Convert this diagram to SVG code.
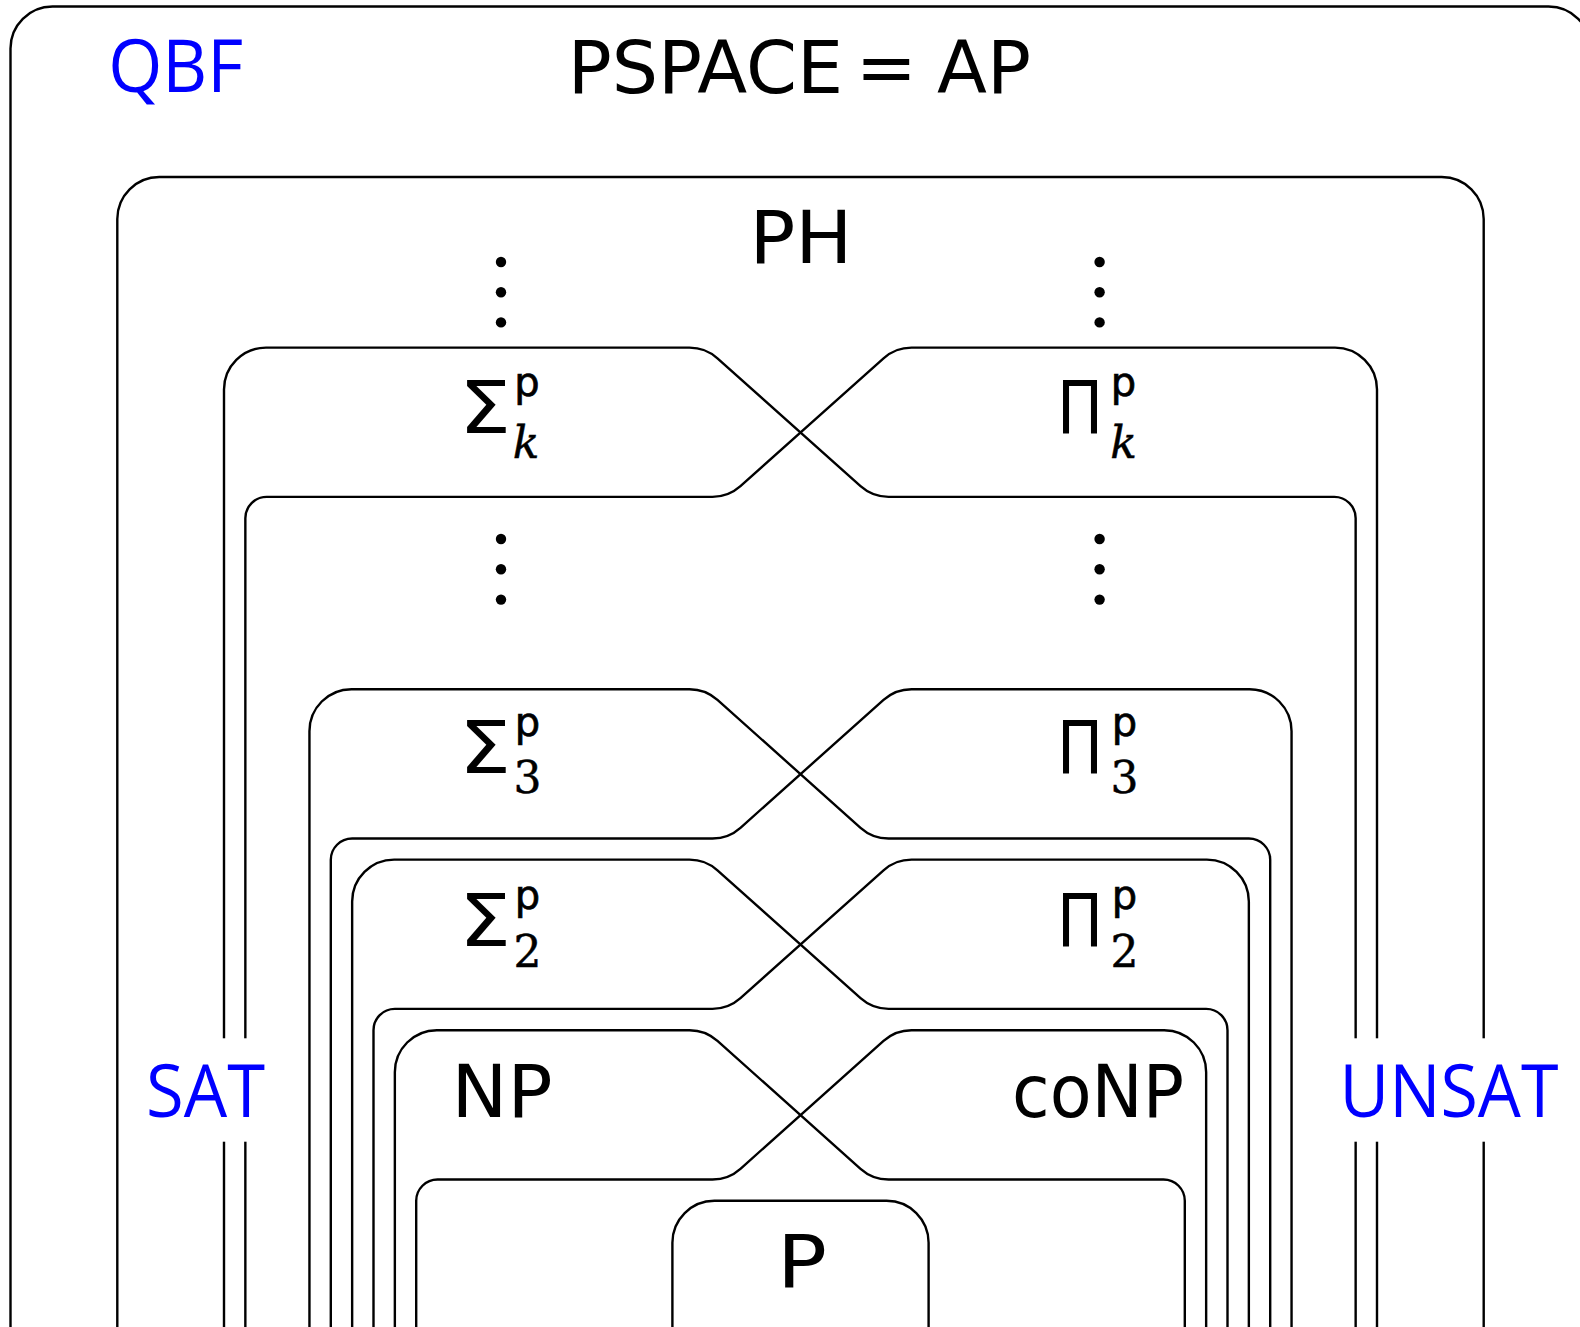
<svg xmlns="http://www.w3.org/2000/svg" width="1580" height="1327" viewBox="0 0 1580 1327">
<style>
.box{fill:none;stroke:#000;stroke-width:2.4}
.lbl{font-family:"DejaVu Sans","Liberation Sans",sans-serif;font-size:73px;fill:#000;text-anchor:middle}
.blue{font-family:"Open Sans","Noto Sans",sans-serif;font-size:73px;fill:#0000ff;text-anchor:middle}
.sup{font-family:"DejaVu Sans","Liberation Sans",sans-serif;font-size:40px;stroke:#000;stroke-width:0.7}
.sub{font-family:"DejaVu Serif","Liberation Serif",serif;font-size:44px;stroke:#000;stroke-width:0.5}
.subi{font-family:"DejaVu Serif","Liberation Serif",serif;font-size:44px;font-style:italic;stroke:#000;stroke-width:0.5}
.dot{fill:#000}
.bg{fill:#fff}
</style>
<rect width="1580" height="1327" fill="#fff"/>
<g id="pspace">
<path class="box" d="M10.5,1340 V48.5 A42,42 0 0 1 52.5,6.5 H1548.5 A42,42 0 0 1 1590.5,48.5 V1340"/>
<text class="lbl" y="92.7"><tspan x="717">PSPACE</tspan> <tspan x="898">=</tspan> <tspan x="984">AP</tspan></text>
</g>
<g id="ph">
<path class="box" d="M117.3,1340 V219 A42,42 0 0 1 159.3,177 H1441.7 A42,42 0 0 1 1483.7,219 V1340"/>
<text class="lbl" x="800.9" y="263.3" textLength="103" lengthAdjust="spacingAndGlyphs">PH</text>
</g>
<g id="dots">
<circle class="dot" cx="501" cy="262" r="5.2"/><circle class="dot" cx="501" cy="292.2" r="5.2"/><circle class="dot" cx="501" cy="322.4" r="5.2"/>
<circle class="dot" cx="1099.6" cy="262" r="5.2"/><circle class="dot" cx="1099.6" cy="292.2" r="5.2"/><circle class="dot" cx="1099.6" cy="322.4" r="5.2"/>
<circle class="dot" cx="501" cy="539" r="5.2"/><circle class="dot" cx="501" cy="569.3" r="5.2"/><circle class="dot" cx="501" cy="599.6" r="5.2"/>
<circle class="dot" cx="1099.6" cy="539" r="5.2"/><circle class="dot" cx="1099.6" cy="569.3" r="5.2"/><circle class="dot" cx="1099.6" cy="599.6" r="5.2"/>
</g>
<g id="sigma-k">
<path class="box" d="M224,1340 V389.6 A42,42 0 0 1 266,347.6 H689.46 A42,42 0 0 1 717.46,358.29 L860.54,486.21 A42,42 0 0 0 888.54,496.9 H1334.3 A21.35,21.35 0 0 1 1355.65,518.25 V1340"/>
<text class="lbl" y="433.3"><tspan x="485" textLength="52" lengthAdjust="spacingAndGlyphs">Σ</tspan><tspan class="sup" x="527" y="396.3">p</tspan><tspan class="subi" x="526" y="458.3">k</tspan></text>
</g>
<g id="pi-k">
<path class="box" d="M1377,1340 V389.6 A42,42 0 0 0 1335,347.6 H911.54 A42,42 0 0 0 883.54,358.29 L740.46,486.21 A42,42 0 0 1 712.46,496.9 H266.7 A21.35,21.35 0 0 0 245.35,518.25 V1340"/>
<text class="lbl" y="433.3"><tspan x="1080" textLength="46" lengthAdjust="spacingAndGlyphs">Π</tspan><tspan class="sup" x="1123.5" y="396.3">p</tspan><tspan class="subi" x="1123.5" y="458.3">k</tspan></text>
</g>
<g id="sigma-3">
<path class="box" d="M309.45,1340 V731.2 A42,42 0 0 1 351.45,689.2 H689.46 A42,42 0 0 1 717.46,699.89 L860.54,827.81 A42,42 0 0 0 888.54,838.5 H1248.85 A21.35,21.35 0 0 1 1270.2,859.85 V1340"/>
<text class="lbl" y="773.3"><tspan x="485" textLength="52" lengthAdjust="spacingAndGlyphs">Σ</tspan><tspan class="sup" x="527.5" y="736.3">p</tspan><tspan class="sub" x="527.5" y="793.3">3</tspan></text>
</g>
<g id="pi-3">
<path class="box" d="M1291.55,1340 V731.2 A42,42 0 0 0 1249.55,689.2 H911.54 A42,42 0 0 0 883.54,699.89 L740.46,827.81 A42,42 0 0 1 712.46,838.5 H352.15 A21.35,21.35 0 0 0 330.8,859.85 V1340"/>
<text class="lbl" y="773.3"><tspan x="1080" textLength="46" lengthAdjust="spacingAndGlyphs">Π</tspan><tspan class="sup" x="1124.5" y="736.3">p</tspan><tspan class="sub" x="1124.5" y="793.3">3</tspan></text>
</g>
<g id="sigma-2">
<path class="box" d="M352.15,1340 V901.6 A42,42 0 0 1 394.15,859.6 H689.46 A42,42 0 0 1 717.46,870.29 L860.54,998.21 A42,42 0 0 0 888.54,1008.9 H1206.15 A21.35,21.35 0 0 1 1227.5,1030.25 V1340"/>
<text class="lbl" y="946"><tspan x="485" textLength="52" lengthAdjust="spacingAndGlyphs">Σ</tspan><tspan class="sup" x="527.5" y="909">p</tspan><tspan class="sub" x="527.5" y="967.3">2</tspan></text>
</g>
<g id="pi-2">
<path class="box" d="M1248.85,1340 V901.6 A42,42 0 0 0 1206.85,859.6 H911.54 A42,42 0 0 0 883.54,870.29 L740.46,998.21 A42,42 0 0 1 712.46,1008.9 H394.85 A21.35,21.35 0 0 0 373.5,1030.25 V1340"/>
<text class="lbl" y="946"><tspan x="1080" textLength="46" lengthAdjust="spacingAndGlyphs">Π</tspan><tspan class="sup" x="1124.5" y="909">p</tspan><tspan class="sub" x="1124.5" y="967.3">2</tspan></text>
</g>
<g id="np">
<path class="box" d="M394.85,1340 V1072.2 A42,42 0 0 1 436.85,1030.2 H689.46 A42,42 0 0 1 717.46,1040.89 L860.54,1168.81 A42,42 0 0 0 888.54,1179.5 H1163.45 A21.35,21.35 0 0 1 1184.8,1200.85 V1340"/>
<text class="lbl" x="502" y="1117" textLength="101" lengthAdjust="spacingAndGlyphs">NP</text>
</g>
<g id="conp">
<path class="box" d="M1206.15,1340 V1072.2 A42,42 0 0 0 1164.15,1030.2 H911.54 A42,42 0 0 0 883.54,1040.89 L740.46,1168.81 A42,42 0 0 1 712.46,1179.5 H437.55 A21.35,21.35 0 0 0 416.2,1200.85 V1340"/>
<text class="lbl" x="1098" y="1117" textLength="172" lengthAdjust="spacingAndGlyphs">coNP</text>
</g>
<g id="p">
<path class="box" d="M672.4,1340 V1242.8 A42,42 0 0 1 714.4,1200.8 H886.6 A42,42 0 0 1 928.6,1242.8 V1340"/>
<text class="lbl" x="802" y="1287.3" textLength="50" lengthAdjust="spacingAndGlyphs">P</text>
</g>
<g id="qbf">
<text class="blue" x="175.7" y="91.7" font-size="72" textLength="135" lengthAdjust="spacingAndGlyphs">QBF</text>
</g>
<g id="sat">
<rect class="bg" x="135" y="1038.3" width="150" height="103.4"/>
<text class="blue" x="205.5" y="1117" textLength="119" lengthAdjust="spacingAndGlyphs">SAT</text>
</g>
<g id="unsat">
<rect class="bg" x="1318" y="1038.3" width="257" height="103.4"/>
<text class="blue" x="1449" y="1117" textLength="219" lengthAdjust="spacingAndGlyphs">UNSAT</text>
</g>
</svg>
